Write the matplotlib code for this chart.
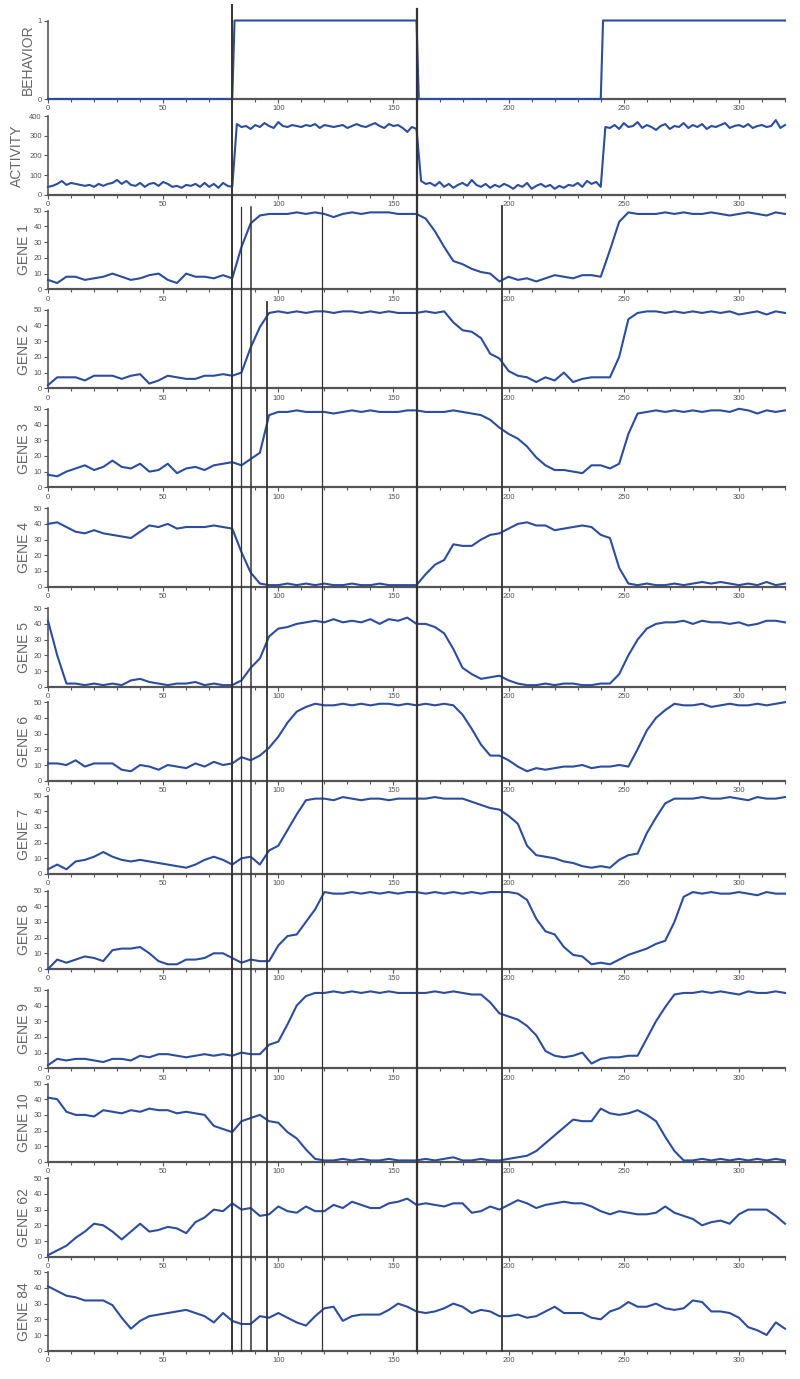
import numpy as np
import matplotlib
matplotlib.use("Agg")
import matplotlib.pyplot as plt
from matplotlib.lines import Line2D
from matplotlib.transforms import blended_transform_factory
from matplotlib.ticker import MultipleLocator

# time axis (samples every 2 for activity, every 4 for genes)
activity_t = np.arange(0, 321, 2)
gene_t = np.arange(0, 321, 4)

behavior_t = [0, 80, 81, 160, 161, 240, 241, 320]
behavior = [0, 0, 1, 1, 0, 0, 1, 1]

activity = [
    40, 45, 55, 70, 50, 60, 55, 50, 45, 50,
    40, 55, 45, 55, 60, 75, 55, 70, 50, 45,
    60, 40, 55, 60, 45, 65, 55, 40, 45, 35,
    50, 45, 55, 40, 60, 40, 55, 35, 60, 45,
    40,
    360, 345, 350, 335, 355, 345, 365, 350, 340, 370,
    350, 345, 355, 350, 345, 355, 350, 360, 340, 355,
    350, 345, 350, 355, 340, 350, 360, 350, 345, 355,
    365, 350, 340, 360, 350, 355, 340, 320, 345, 335,
    70, 55, 60, 45, 65, 40, 55, 35, 50, 60,
    45, 75, 50, 40, 55, 35, 50, 40, 55, 45,
    30, 50, 40, 60, 30, 45, 55, 40, 50, 30,
    45, 35, 50, 45, 60, 40, 70, 55, 65, 40,
    345, 340, 355, 335, 365, 345, 350, 370, 340, 355,
    345, 330, 350, 360, 335, 350, 345, 365, 340, 355,
    345, 360, 335, 350, 345, 355, 365, 340, 350, 355,
    345, 360, 340, 350, 355, 345, 350, 380, 340, 355,
]

gene1 = [6, 4, 8, 8, 6, 7, 8, 10, 8, 6,
         7, 9, 10, 6, 4, 10, 8, 8, 7, 9,
         7, 27, 42, 47, 48, 48, 48, 49, 48, 49,
         48, 46, 48, 49, 48, 49, 49, 49, 48, 48,
         48, 45, 37, 27, 18, 16, 13, 11, 10, 5,
         8, 6, 7, 5, 7, 9, 8, 7, 9, 9,
         8, 25, 43, 49, 48, 48, 48, 49, 48, 49,
         48, 48, 49, 48, 47, 48, 49, 48, 47, 49,
         48]
gene2 = [2, 7, 7, 7, 5, 8, 8, 8, 6, 8,
         9, 3, 5, 8, 7, 6, 6, 8, 8, 9,
         8, 10, 26, 39, 48, 49, 48, 49, 48, 49,
         49, 48, 49, 49, 48, 49, 48, 49, 48, 48,
         48, 49, 48, 49, 42, 37, 36, 32, 22, 19,
         11, 8, 7, 4, 7, 5, 10, 4, 6, 7,
         7, 7, 20, 44, 48, 49, 49, 48, 49, 48,
         49, 48, 49, 48, 49, 47, 48, 49, 47, 49,
         48]
gene3 = [8, 7, 10, 12, 14, 11, 13, 17, 13, 12,
         15, 10, 11, 15, 9, 12, 13, 11, 14, 15,
         16, 14, 18, 22, 46, 48, 48, 49, 48, 48,
         48, 47, 48, 49, 48, 49, 48, 48, 48, 49,
         49, 48, 48, 48, 49, 48, 47, 46, 43, 38,
         34, 31, 26, 19, 14, 11, 11, 10, 9, 14,
         14, 12, 15, 34, 47, 48, 49, 48, 49, 48,
         49, 48, 49, 49, 48, 50, 49, 47, 49, 48,
         49]
gene4 = [40, 41, 38, 35, 34, 36, 34, 33, 32, 31,
         35, 39, 38, 40, 37, 38, 38, 38, 39, 38,
         37, 22, 9, 2, 1, 1, 2, 1, 2, 1,
         2, 1, 1, 2, 1, 1, 2, 1, 1, 1,
         1, 8, 14, 17, 27, 26, 26, 30, 33, 34,
         37, 40, 41, 39, 39, 36, 37, 38, 39, 38,
         33, 31, 12, 2, 1, 2, 1, 1, 2, 1,
         2, 3, 2, 3, 2, 1, 2, 1, 3, 1,
         2]
gene5 = [42, 20, 2, 2, 1, 2, 1, 2, 1, 4,
         5, 3, 2, 1, 2, 2, 3, 1, 2, 1,
         1, 4, 12, 18, 32, 37, 38, 40, 41, 42,
         41, 43, 41, 42, 41, 43, 40, 43, 42, 44,
         40, 40, 38, 34, 24, 12, 8, 5, 6, 7,
         4, 2, 1, 1, 2, 1, 2, 2, 1, 1,
         2, 2, 8, 20, 30, 37, 40, 41, 41, 42,
         40, 42, 41, 41, 40, 41, 39, 40, 42, 42,
         41]
gene6 = [11, 11, 10, 13, 9, 11, 11, 11, 7, 6,
         10, 9, 7, 10, 9, 8, 11, 9, 12, 10,
         11, 15, 13, 16, 21, 28, 37, 44, 47, 49,
         48, 48, 49, 48, 49, 48, 49, 49, 48, 49,
         48, 49, 48, 49, 48, 42, 33, 23, 16, 16,
         13, 9, 6, 8, 7, 8, 9, 9, 10, 8,
         9, 9, 10, 9, 20, 32, 40, 45, 49, 48,
         48, 49, 47, 48, 49, 48, 48, 49, 48, 49,
         50]
gene7 = [3, 6, 3, 8, 9, 11, 14, 11, 9, 8,
         9, 8, 7, 6, 5, 4, 6, 9, 11, 9,
         6, 10, 11, 6, 15, 18, 28, 38, 47, 48,
         48, 47, 49, 48, 47, 48, 48, 47, 48, 48,
         48, 48, 49, 48, 48, 48, 46, 44, 42, 41,
         37, 32, 18, 12, 11, 10, 8, 7, 5, 4,
         5, 4, 9, 12, 13, 26, 36, 45, 48, 48,
         48, 49, 48, 48, 49, 48, 47, 49, 48, 48,
         49]
gene8 = [0, 6, 4, 6, 8, 7, 5, 12, 13, 13,
         14, 10, 5, 3, 3, 6, 6, 7, 10, 10,
         7, 4, 6, 5, 5, 15, 21, 22, 30, 38,
         49, 48, 48, 49, 48, 49, 48, 49, 48, 49,
         49, 48, 49, 48, 49, 48, 49, 48, 49, 49,
         49, 48, 44, 32, 24, 22, 14, 9, 8, 3,
         4, 3, 6, 9, 11, 13, 16, 18, 30, 46,
         49, 48, 49, 48, 48, 49, 48, 47, 49, 48,
         48]
gene9 = [2, 6, 5, 6, 6, 5, 4, 6, 6, 5,
         8, 7, 9, 9, 8, 7, 8, 9, 8, 9,
         8, 10, 9, 9, 15, 17, 28, 40, 46, 48,
         48, 49, 48, 49, 48, 49, 48, 49, 48, 48,
         48, 48, 49, 48, 49, 48, 47, 47, 42, 35,
         33, 31, 27, 21, 11, 8, 7, 8, 10, 3,
         6, 7, 7, 8, 8, 19, 30, 39, 47, 48,
         48, 49, 48, 49, 48, 47, 49, 48, 48, 49,
         48]
gene10 = [41, 40, 32, 30, 30, 29, 33, 32, 31, 33,
          32, 34, 33, 33, 31, 32, 31, 30, 23, 21,
          19, 26, 28, 30, 26, 25, 19, 15, 8, 2,
          1, 1, 2, 1, 2, 1, 1, 2, 1, 1,
          1, 2, 1, 2, 3, 1, 1, 2, 1, 1,
          2, 3, 4, 7, 12, 17, 22, 27, 26, 26,
          34, 31, 30, 31, 33, 30, 26, 16, 7, 1,
          1, 2, 1, 2, 1, 2, 1, 2, 1, 2,
          1]
gene62 = [1, 4, 7, 12, 16, 21, 20, 16, 11, 16,
          21, 16, 17, 19, 18, 15, 22, 25, 30, 29,
          34, 30, 31, 26, 27, 32, 29, 28, 32, 29,
          29, 33, 31, 35, 33, 31, 31, 34, 35, 37,
          33, 34, 33, 32, 34, 34, 28, 29, 32, 30,
          33, 36, 34, 31, 33, 34, 35, 34, 34, 32,
          29, 27, 29, 28, 27, 27, 28, 32, 28, 26,
          24, 20, 22, 23, 21, 27, 30, 30, 30, 26,
          21]
gene84 = [41, 38, 35, 34, 32, 32, 32, 29, 21, 14,
          19, 22, 23, 24, 25, 26, 24, 22, 18, 24,
          19, 17, 17, 22, 21, 24, 21, 18, 16, 22,
          27, 28, 19, 22, 23, 23, 23, 26, 30, 28,
          25, 24, 25, 27, 30, 28, 24, 26, 25, 22,
          22, 23, 21, 22, 25, 28, 24, 24, 24, 21,
          20, 25, 27, 31, 28, 28, 30, 27, 26, 27,
          32, 31, 25, 25, 24, 21, 15, 13, 10, 18,
          14]

panels = [
    ("BEHAVIOR", behavior_t, behavior, 1, [0, 1]),
    ("ACTIVITY", activity_t, activity, 400, [0, 100, 200, 300, 400]),
    ("GENE 1", gene_t, gene1, 50, None),
    ("GENE 2", gene_t, gene2, 50, None),
    ("GENE 3", gene_t, gene3, 50, None),
    ("GENE 4", gene_t, gene4, 50, None),
    ("GENE 5", gene_t, gene5, 50, None),
    ("GENE 6", gene_t, gene6, 50, None),
    ("GENE 7", gene_t, gene7, 50, None),
    ("GENE 8", gene_t, gene8, 50, None),
    ("GENE 9", gene_t, gene9, 50, None),
    ("GENE 10", gene_t, gene10, 50, None),
    ("GENE 62", gene_t, gene62, 50, None),
    ("GENE 84", gene_t, gene84, 50, None),
]

# marker times drawn across the panels
marker_t = [80, 84, 88, 95, 119, 160, 197]

W, H = 800, 1379
fig = plt.figure(figsize=(W / 100, H / 100), dpi=100)

# layout in pixels (from top of the image)
bottoms_px = [99, 194.7, 289.3, 388.3, 487.3, 586.7, 686.7, 780.7,
              874, 969, 1068.3, 1162, 1256.7, 1350.7]
panel_h = 78.5
left_px, right_px = 48, 785

line_color = "#2c4d9c"
axis_color = "#555555"
text_color = "#555555"

axes = []
for (label, t, y, ymax, yt), b in zip(panels, bottoms_px):
    ax = fig.add_axes([left_px / W, 1 - b / H, (right_px - left_px) / W, panel_h / H])
    ax.patch.set_alpha(0)
    ax.plot(t, y, color=line_color, lw=1.5, clip_on=False, zorder=3)
    ax.set_xlim(0, 320)
    ax.set_ylim(0, ymax)
    for s in ["top", "right"]:
        ax.spines[s].set_visible(False)
    ax.spines["left"].set_color(axis_color)
    ax.spines["left"].set_linewidth(1.2)
    ax.spines["bottom"].set_color(axis_color)
    ax.spines["bottom"].set_linewidth(1.6)
    ax.xaxis.set_major_locator(MultipleLocator(50))
    ax.xaxis.set_minor_locator(MultipleLocator(10))
    if yt is None:
        ax.yaxis.set_major_locator(MultipleLocator(10))
    else:
        ax.set_yticks(yt)
    ax.tick_params(axis="both", which="major", labelsize=5.5, colors=axis_color,
                   labelcolor=text_color, length=3, width=0.8, pad=1.5)
    ax.tick_params(axis="x", which="minor", length=2, width=0.8, colors=axis_color)
    for lab in ax.get_xticklabels() + ax.get_yticklabels():
        lab.set_family("Liberation Sans")
    # label sits left of the tick labels; ACTIVITY has wider ticks
    lx = 17 if label == "ACTIVITY" else (28 if label == "BEHAVIOR" else 24)
    fig.text(lx / W, 1 - (b - panel_h / 2) / H, label, rotation=90,
             ha="center", va="center", fontsize=10, color="#666666",
             family="Liberation Sans")
    axes.append(ax)

# vertical marker lines spanning the stack
trans = blended_transform_factory(axes[0].transData, fig.transFigure)
line_tops_px = [5, 207, 207, 302, 207, 9, 206]
line_widths = [1.4, 0.9, 1.1, 1.3, 0.9, 1.6, 1.3]
bottom_end = 1351
for x, top, lw in zip(marker_t, line_tops_px, line_widths):
    fig.add_artist(Line2D([x, x], [1 - top / H, 1 - bottom_end / H],
                          transform=trans, color="#333333", lw=lw, zorder=5))

fig.savefig("out.png", dpi=100)
